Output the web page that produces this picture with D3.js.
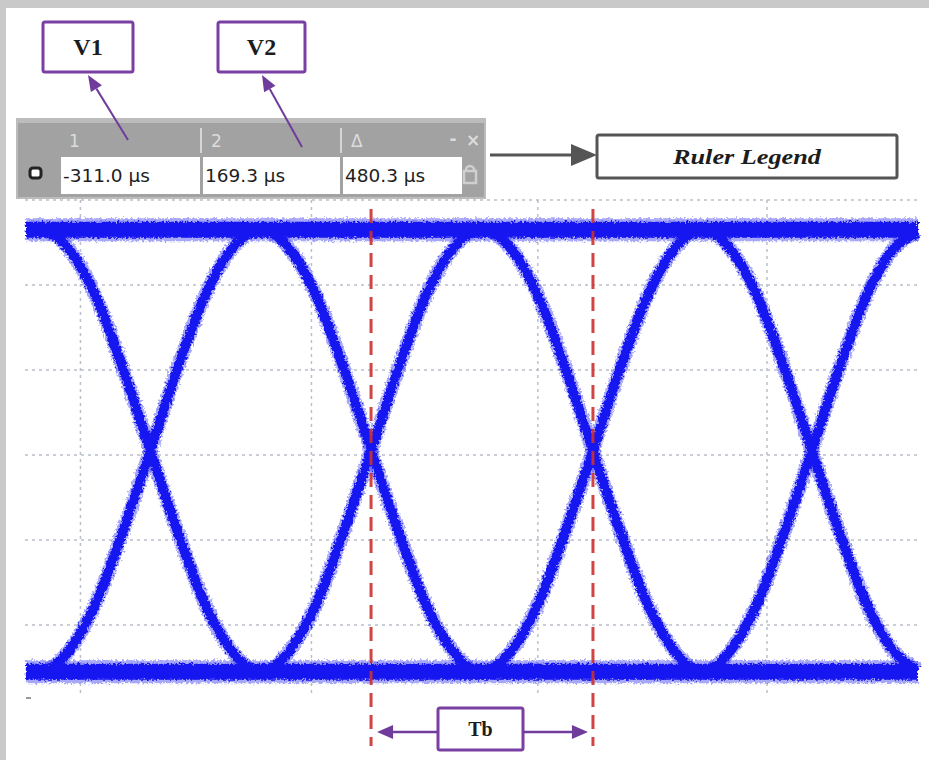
<!DOCTYPE html>
<html>
<head>
<meta charset="utf-8">
<script src="https://d3js.org/d3.v7.min.js"></script>
<style>
  body { margin: 0; background: #fff; }
  svg { display: block; }
  .grid line { stroke: #b9c0ca; stroke-width: 1.5; stroke-dasharray: 3,4; }
  .tag { font-family: 'Liberation Serif', serif; font-weight: bold; fill: #1c1c1c; }
  .cell { font-family: 'DejaVu Sans', sans-serif; font-size: 18.5px; fill: #1e1e1e; }
  .head { font-family: 'DejaVu Sans', sans-serif; font-size: 17px; fill: #dcdcdc; }
</style>
</head>
<body>
<div id="holder"></div>
<script>
  // time in µs, amplitude in scope divisions
  const timeGrid = [-940, -440, 50, 546];
  const levelGrid = [3, 2, 1, 0, -1, -2];
  const railLevels = [2.65, -2.55];
  const traceSpan = [-1058, 873];

  // the two eye traces
  const traceLow = [
    [-1058, -2.55], [-1030, -2.55], [-962, -2.28], [-908, -1.76], [-847, -0.88],
    [-789, 0.05], [-731, 1.0], [-670, 1.88], [-616, 2.4], [-551, 2.65],
    [-484, 2.4], [-430, 1.88], [-369, 1.0], [-311, 0.05], [-253, -0.88],
    [-192, -1.76], [-138, -2.28], [-73, -2.55], [-4, -2.28], [50, -1.76],
    [111, -0.88], [169, 0.05], [227, 1.0], [288, 1.88], [342, 2.4],
    [407, 2.65], [470, 2.4], [524, 1.88], [585, 1.0], [643, 0.05],
    [701, -0.88], [762, -1.76], [816, -2.28], [873, -2.53]
  ];
  const traceHigh = [
    [-1058, 2.65], [-1030, 2.65], [-962, 2.4], [-908, 1.88], [-847, 1.0],
    [-789, 0.05], [-731, -0.88], [-670, -1.76], [-616, -2.28], [-551, -2.55],
    [-484, -2.28], [-430, -1.76], [-369, -0.88], [-311, 0.05], [-253, 1.0],
    [-192, 1.88], [-138, 2.4], [-73, 2.65], [-4, 2.4], [50, 1.88],
    [111, 1.0], [169, 0.05], [227, -0.88], [288, -1.76], [342, -2.28],
    [407, -2.55], [470, -2.28], [524, -1.76], [585, -0.88], [643, 0.05],
    [701, 1.0], [762, 1.88], [816, 2.4], [873, 2.62]
  ];

  // ruler cursors
  const cursorTimes = [-311.0, 169.3];
  const rulerHeads = ['1', '2', 'Δ'];
  const rulerReadouts = ['-311.0 µs', '169.3 µs', '480.3 µs'];

  const w = 929;
  const h = 760;

  const x = d3.scaleLinear().domain([-1060, 875]).range([25, 919]);
  const y = d3.scaleLinear().domain([-3, 3]).range([710, 200]);

  const svg = d3.select('#holder').append('svg').attr('width', w).attr('height', h);

  const defs = svg.append('defs');
  const f = defs.append('filter').attr('id', 'jitter')
    .attr('filterUnits', 'userSpaceOnUse')
    .attr('x', 0).attr('y', 0).attr('width', w).attr('height', h);
  f.append('feTurbulence').attr('type', 'fractalNoise').attr('baseFrequency', '0.45')
    .attr('numOctaves', 2).attr('seed', 4).attr('result', 'n');
  f.append('feDisplacementMap').attr('in', 'SourceGraphic').attr('in2', 'n')
    .attr('scale', 6).attr('xChannelSelector', 'R').attr('yChannelSelector', 'G').attr('result', 'd');
  f.append('feGaussianBlur').attr('in', 'd').attr('stdDeviation', 0.75);

  svg.append('rect').attr('width', w).attr('height', h).attr('fill', '#fff');
  // grey frame of the capture
  svg.append('rect').attr('width', w).attr('height', 8).attr('fill', '#c9c9c9');
  svg.append('rect').attr('width', 6).attr('height', h).attr('fill', '#c9c9c9');

  // grid
  const grid = svg.append('g').attr('class', 'grid');
  grid.selectAll('.vg').data(timeGrid).enter().append('line')
    .attr('x1', (d) => x(d)).attr('x2', (d) => x(d))
    .attr('y1', 200).attr('y2', 697);
  grid.selectAll('.hg').data(levelGrid).enter().append('line')
    .attr('x1', 25).attr('x2', 918)
    .attr('y1', (d) => y(d)).attr('y2', (d) => y(d));
  svg.append('line').attr('x1', 26).attr('x2', 31).attr('y1', 698).attr('y2', 698)
    .attr('stroke', '#777').attr('stroke-width', 1.5);

  // traces
  const line = d3.line().x((d) => x(d[0])).y((d) => y(d[1])).curve(d3.curveMonotoneX);
  const tr = svg.append('g').attr('filter', 'url(#jitter)');
  const rails = railLevels.map((lv) => traceSpan.map((t) => [t, lv]));

  [[rails, 23, 0.45], [[traceLow, traceHigh], 14, 0.45]].forEach(([set, sw, op]) => {
    tr.selectAll(null).data(set).enter().append('path')
      .attr('d', line).attr('fill', 'none')
      .attr('stroke', '#3a3af5').attr('stroke-opacity', op).attr('stroke-width', sw);
  });
  tr.selectAll(null).data(rails).enter().append('path')
    .attr('d', line).attr('fill', 'none')
    .attr('stroke', '#1414f0').attr('stroke-width', 16);
  tr.selectAll(null).data([traceLow, traceHigh]).enter().append('path')
    .attr('d', line).attr('fill', 'none')
    .attr('stroke', '#1414f0').attr('stroke-width', 9.5);

  // ruler cursors
  svg.selectAll('.cur').data(cursorTimes).enter().append('line')
    .attr('x1', (d) => x(d)).attr('x2', (d) => x(d))
    .attr('y1', 209).attr('y2', 746)
    .attr('stroke', '#cc3030').attr('stroke-opacity', 0.9)
    .attr('stroke-width', 3).attr('stroke-dasharray', '14,8');

  function arrow(x1, y1, x2, y2, col, sw, hl, hw) {
    const a = Math.atan2(y2 - y1, x2 - x1);
    const bx = x2 - hl * Math.cos(a), by = y2 - hl * Math.sin(a);
    svg.append('line').attr('x1', x1).attr('y1', y1).attr('x2', bx).attr('y2', by)
      .attr('stroke', col).attr('stroke-width', sw);
    const px = -Math.sin(a) * hw / 2, py = Math.cos(a) * hw / 2;
    svg.append('path')
      .attr('d', `M${x2},${y2}L${bx + px},${by + py}L${bx - px},${by - py}Z`)
      .attr('fill', col);
  }

  function tagBox(x0, y0, bw, bh, col, label, fs, extra) {
    svg.append('rect').attr('x', x0).attr('y', y0).attr('width', bw).attr('height', bh)
      .attr('rx', 2).attr('fill', '#fff').attr('stroke', col).attr('stroke-width', 3);
    const t = svg.append('text').attr('class', 'tag')
      .attr('x', x0 + bw / 2).attr('y', y0 + bh / 2).attr('dy', '0.35em')
      .attr('text-anchor', 'middle').style('font-size', fs + 'px').text(label);
    if (extra) extra(t);
  }

  // ruler legend widget
  const rw = svg.append('g');
  rw.append('rect').attr('x', 16).attr('y', 118).attr('width', 470).attr('height', 81).attr('fill', '#bcbcbc');
  rw.append('rect').attr('x', 18).attr('y', 123).attr('width', 466).attr('height', 74).attr('fill', '#a2a2a2');
  const cells = [[61, 139], [203, 137], [343, 119]];
  cells.forEach(([cx, cw], i) => {
    rw.append('rect').attr('x', cx).attr('y', 157).attr('width', cw).attr('height', 37).attr('fill', '#fff');
    rw.append('text').attr('class', 'head').attr('x', cx + 8).attr('y', 147).text(rulerHeads[i]);
    rw.append('text').attr('class', 'cell').attr('x', cx + 2).attr('y', 182).text(rulerReadouts[i]);
    if (i > 0) {
      rw.append('line').attr('x1', cx - 2).attr('x2', cx - 2).attr('y1', 128).attr('y2', 153)
        .attr('stroke', '#d6d6d6').attr('stroke-width', 2);
    }
  });
  rw.append('rect').attr('x', 30).attr('y', 168).attr('width', 11).attr('height', 10).attr('rx', 3)
    .attr('fill', '#fff').attr('stroke', '#222').attr('stroke-width', 3);
  rw.append('text').attr('class', 'head').attr('x', 453).attr('y', 145).attr('text-anchor', 'middle')
    .style('font-weight', 'bold').text('-');
  rw.append('text').attr('class', 'head').attr('x', 473).attr('y', 146).attr('text-anchor', 'middle')
    .style('font-weight', 'bold').text('×');
  rw.append('path').attr('d', 'M466,170 a4,4 0 0 1 8,0 v-2 M464,171 h12 v12 h-12 Z')
    .attr('fill', 'none').attr('stroke', '#cfcfcf').attr('stroke-width', 2.5);

  // callouts
  const purple = '#6f3c9c';
  tagBox(43, 22, 90, 50, '#7a3fa2', 'V1', 24);
  tagBox(218, 22, 87, 50, '#7a3fa2', 'V2', 24);
  arrow(128, 140, 88, 75, purple, 2, 16, 13);
  arrow(302, 147, 262, 75, purple, 2, 16, 13);

  arrow(490, 155, 597, 155, '#555', 3, 26, 22);
  tagBox(597, 135, 300, 43, '#555', 'Ruler Legend', 20, (t) =>
    t.style('font-style', 'italic').attr('textLength', 148).attr('lengthAdjust', 'spacingAndGlyphs'));

  tagBox(438, 708, 85, 42, '#7a3fa2', 'Tb', 20);
  arrow(438, 732, x(cursorTimes[0]) + 6, 732, purple, 2.5, 16, 14);
  arrow(523, 732, x(cursorTimes[1]) - 5, 732, purple, 2.5, 16, 14);
</script>
</body>
</html>
